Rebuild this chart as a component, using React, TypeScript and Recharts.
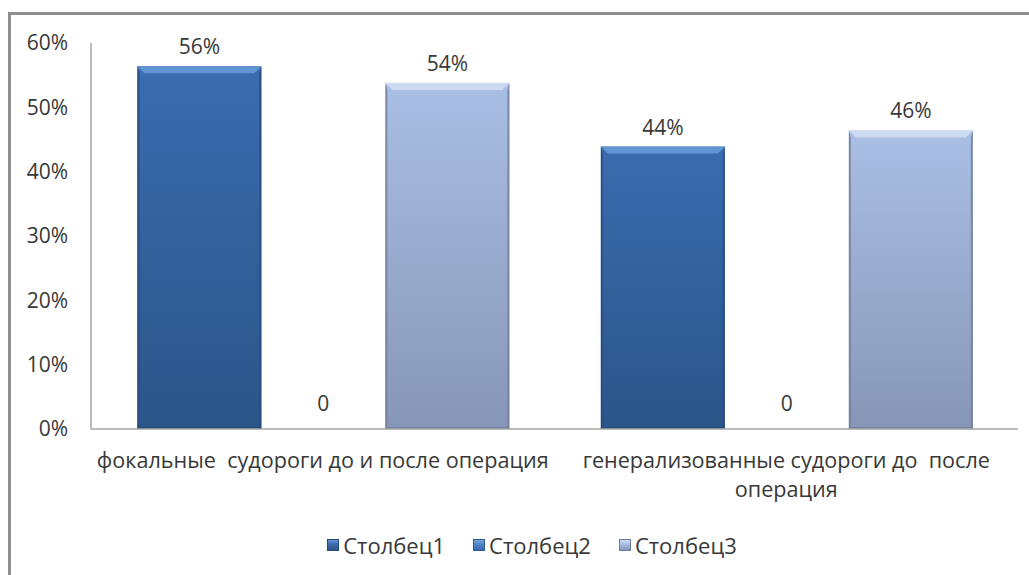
import React from "react";
import { BarChart, Bar, XAxis, YAxis, LabelList, Legend } from "recharts";

const categories = [
  "фокальные  судороги до и после операция",
  "генерализованные судороги до  после\nоперация",
];
const series1 = [0.564, 0.439];
const series2 = [0, 0];
const series3 = [0.538, 0.464];
const seriesNames = ["Столбец1", "Столбец2", "Столбец3"];
const yTicks = [0, 0.1, 0.2, 0.3, 0.4, 0.5, 0.6];

const data = categories.map((c, i) => ({
  name: c,
  s1: series1[i],
  s2: series2[i],
  s3: series3[i],
}));

const FONT = "'Open Sans', Lato, 'DejaVu Sans', sans-serif";
const TEXT = "#383838";

const palette: Record<string, { top: string; bottom: string; bevel: string; edge: string }> = {
  s1: { top: "#3a6caf", bottom: "#2c5589", bevel: "#6395d3", edge: "#244a7c" },
  s2: { top: "#4f86c9", bottom: "#3b6cab", bevel: "#7aa8df", edge: "#2f5b92" },
  s3: { top: "#aabfe4", bottom: "#8796b7", bevel: "#cddbf2", edge: "#6f7d9c" },
};

const BevelBar = (props: any) => {
  const { x, y, width, height, sk } = props;
  if (!height || height <= 0) return null;
  const p = palette[sk];
  const b = Math.min(7, height / 2);
  const s = 2;
  return (
    <g>
      <rect x={x} y={y} width={width} height={height} fill={`url(#grad-${sk})`} />
      <polygon
        points={`${x},${y} ${x + width},${y} ${x + width - b},${y + b} ${x + b},${y + b}`}
        fill={p.bevel}
      />
      <polygon
        points={`${x},${y} ${x + s},${y + b} ${x + s},${y + height} ${x},${y + height}`}
        fill={p.edge}
        opacity={0.8}
      />
      <polygon
        points={`${x + width},${y} ${x + width - s},${y + b} ${x + width - s},${y + height} ${x + width},${y + height}`}
        fill={p.edge}
        opacity={0.8}
      />
      <rect x={x} y={y + height - 2} width={width} height={2} fill={p.edge} opacity={0.8} />
    </g>
  );
};

const fmt = (v: any) => (v === 0 ? "0" : `${Math.round(Number(v) * 100)}%`);

const CatTick = (props: any) => {
  const { x, y, payload } = props;
  const lines = String(payload.value).split("\n");
  return (
    <text x={x} y={y} textAnchor="middle" fill={TEXT} fontFamily={FONT} fontSize={21.6}>
      {lines.map((l, i) => (
        <tspan key={i} x={x} dy={i === 0 ? 31 : 29} style={{ whiteSpace: "pre" }}>
          {l}
        </tspan>
      ))}
    </text>
  );
};

const LegendContent = () => (
  <div
    style={{
      display: "flex",
      justifyContent: "center",
      alignItems: "center",
      gap: 28,
      fontFamily: FONT,
      fontSize: 22,
      color: TEXT,
    }}
  >
    {seriesNames.map((n, i) => {
      const p = palette[`s${i + 1}`];
      return (
        <div key={n} style={{ display: "flex", alignItems: "center" }}>
          <span
            style={{
              display: "inline-block",
              width: 10,
              height: 10,
              marginRight: 4,
              background: `linear-gradient(${p.bevel}, ${p.top} 40%, ${p.bottom})`,
              border: `1px solid ${p.edge}`,
            }}
          />
          <span>{n}</span>
        </div>
      );
    })}
  </div>
);

export default function App() {
  return (
    <div
      style={{
        position: "absolute",
        left: 0,
        top: 0,
        width: 1029,
        height: 575,
        background: "#fff",
        overflow: "hidden",
      }}
    >
      <div
        style={{
          position: "absolute",
          left: 8,
          top: 12,
          width: 1100,
          height: 700,
          borderLeft: "3px solid #8e8e8e",
          borderTop: "3px solid #8e8e8e",
        }}
      />
      <div style={{ position: "absolute", left: 0, top: 0 }}>
        <BarChart
          width={1029}
          height={575}
          data={data}
          margin={{ top: 43, right: 11, left: 0, bottom: 36 }}
          barCategoryGap="10%"
          barGap={0}
        >
          <defs>
            {Object.keys(palette).map((k) => (
              <linearGradient key={k} id={`grad-${k}`} x1="0" y1="0" x2="0" y2="1">
                <stop offset="0%" stopColor={palette[k].top} />
                <stop offset="100%" stopColor={palette[k].bottom} />
              </linearGradient>
            ))}
          </defs>
          <XAxis
            dataKey="name"
            tickLine={false}
            axisLine={{ stroke: "#a6a6a6", strokeWidth: 1.5 }}
            height={80}
            interval={0}
            tick={<CatTick />}
          />
          <YAxis
            domain={[0, 0.6]}
            ticks={yTicks}
            tickFormatter={(v: number) => `${Math.round(v * 100)}%`}
            tickLine={false}
            axisLine={{ stroke: "#a6a6a6", strokeWidth: 1.5 }}
            width={91}
            tickMargin={17}
            tick={{ fill: TEXT, fontFamily: FONT, fontSize: 21 }}
          />
          <Legend
            verticalAlign="bottom"
            height={40}
            content={<LegendContent />}
            wrapperStyle={{ top: 530, left: 0, width: 1064, height: 30 }}
          />
          {["s1", "s2", "s3"].map((k, i) => (
            <Bar
              key={k}
              dataKey={k}
              name={seriesNames[i]}
              fill={palette[k].top}
              isAnimationActive={false}
              shape={(p: any) => <BevelBar {...p} sk={k} />}
            >
              <LabelList
                dataKey={k}
                position="top"
                offset={k === "s2" ? 18 : 12}
                formatter={fmt}
                fill={TEXT}
                fontFamily={FONT}
                fontSize={21}
              />
            </Bar>
          ))}
        </BarChart>
      </div>
    </div>
  );
}
